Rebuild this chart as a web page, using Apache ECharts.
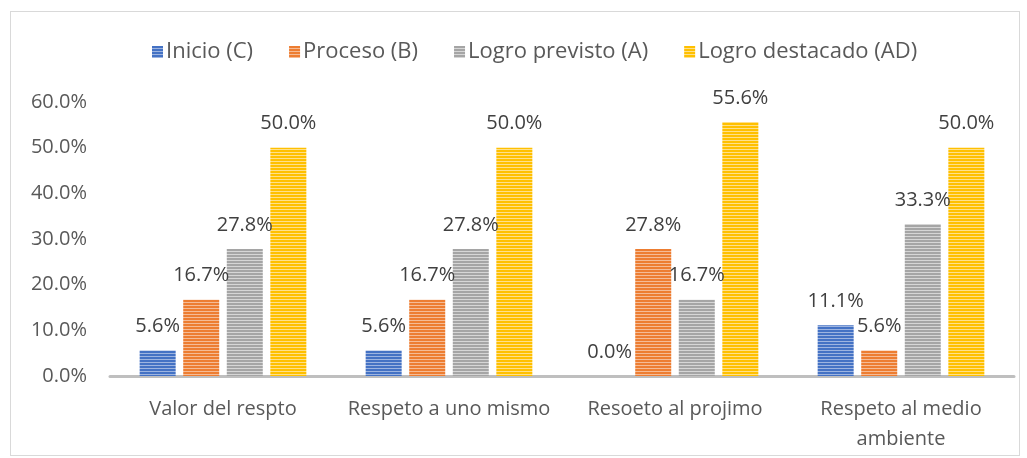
<!DOCTYPE html>
<html>
<head>
<meta charset="utf-8">
<script src="https://cdn.jsdelivr.net/npm/echarts@6/dist/echarts.min.js"></script>
<style>
  html, body { margin: 0; padding: 0; background: #fff; }
  #frame { position: absolute; left: 10px; top: 11px; width: 1008px; height: 443px; border: 1px solid #d9d9d9; }
  #chart { position: absolute; left: 0; top: 0; width: 1027px; height: 458px; }
</style>
</head>
<body>
<div id="frame"></div>
<div id="chart"></div>
<script>
const categories = ['Valor del respto', 'Respeto a uno mismo', 'Resoeto al projimo', 'Respeto al medio\nambiente']
const seriesNames = ['Inicio (C)', 'Proceso (B)', 'Logro previsto (A)', 'Logro destacado (AD)']
const inicio = [5.6, 5.6, 0.0, 11.1]
const proceso = [16.7, 16.7, 27.8, 5.6]
const logroPrevisto = [27.8, 27.8, 16.7, 33.3]
const logroDestacado = [50.0, 50.0, 55.6, 50.0]
const seriesData = [inicio, proceso, logroPrevisto, logroDestacado]

const baseColors = ['#4472C4', '#ED7D31', '#A5A5A5', '#FFC000']
const lightColors = ['#9db4e0', '#f5bb95', '#d6d6d6', '#ffe08a']

// horizontal stripe fill, like the Excel pattern
function stripe(c, l) {
  const cv = document.createElement('canvas')
  cv.width = 4
  cv.height = 3
  const ctx = cv.getContext('2d')
  ctx.fillStyle = c
  ctx.fillRect(0, 0, 4, 3)
  ctx.fillStyle = l
  ctx.fillRect(0, 2, 4, 1)
  return { image: cv, repeat: 'repeat' }
}

const chart = echarts.init(document.getElementById('chart'))
const fontFamily = 'Open Sans, Liberation Sans, sans-serif'

chart.setOption({
  animation: false,
  textStyle: { fontFamily },
  legend: {
    top: 36,
    left: 147,
    itemWidth: 11,
    itemHeight: 12,
    itemGap: 36,
    icon: 'rect',
    textStyle: { fontSize: 22, color: '#595959', fontFamily, padding: [0, 0, 0, -2] },
    data: seriesNames,
  },
  grid: { left: 110, right: 13, top: 102, bottom: 82 },
  xAxis: {
    type: 'category',
    data: categories,
    axisLine: { show: true, lineStyle: { color: '#bfbfbf', width: 3 } },
    axisTick: { show: false },
    axisLabel: { interval: 0, fontSize: 20, color: '#595959', margin: 18, lineHeight: 30, fontFamily },
  },
  yAxis: {
    type: 'value',
    min: 0,
    max: 60,
    interval: 10,
    splitLine: { show: false },
    axisLine: { show: false },
    axisTick: { show: false },
    axisLabel: { fontSize: 20, color: '#595959', margin: 23, formatter: v => v.toFixed(1) + '%', fontFamily },
  },
  series: seriesNames.map((name, i) => ({
    name,
    type: 'bar',
    data: seriesData[i],
    barWidth: 36,
    barGap: '21%',
    itemStyle: { color: stripe(baseColors[i], lightColors[i]) },
    label: {
      show: true,
      position: 'top',
      distance: 14,
      fontSize: 20,
      color: '#404040',
      fontFamily,
      formatter: p => p.value.toFixed(1) + '%',
    },
  })),
})
</script>
</body>
</html>
